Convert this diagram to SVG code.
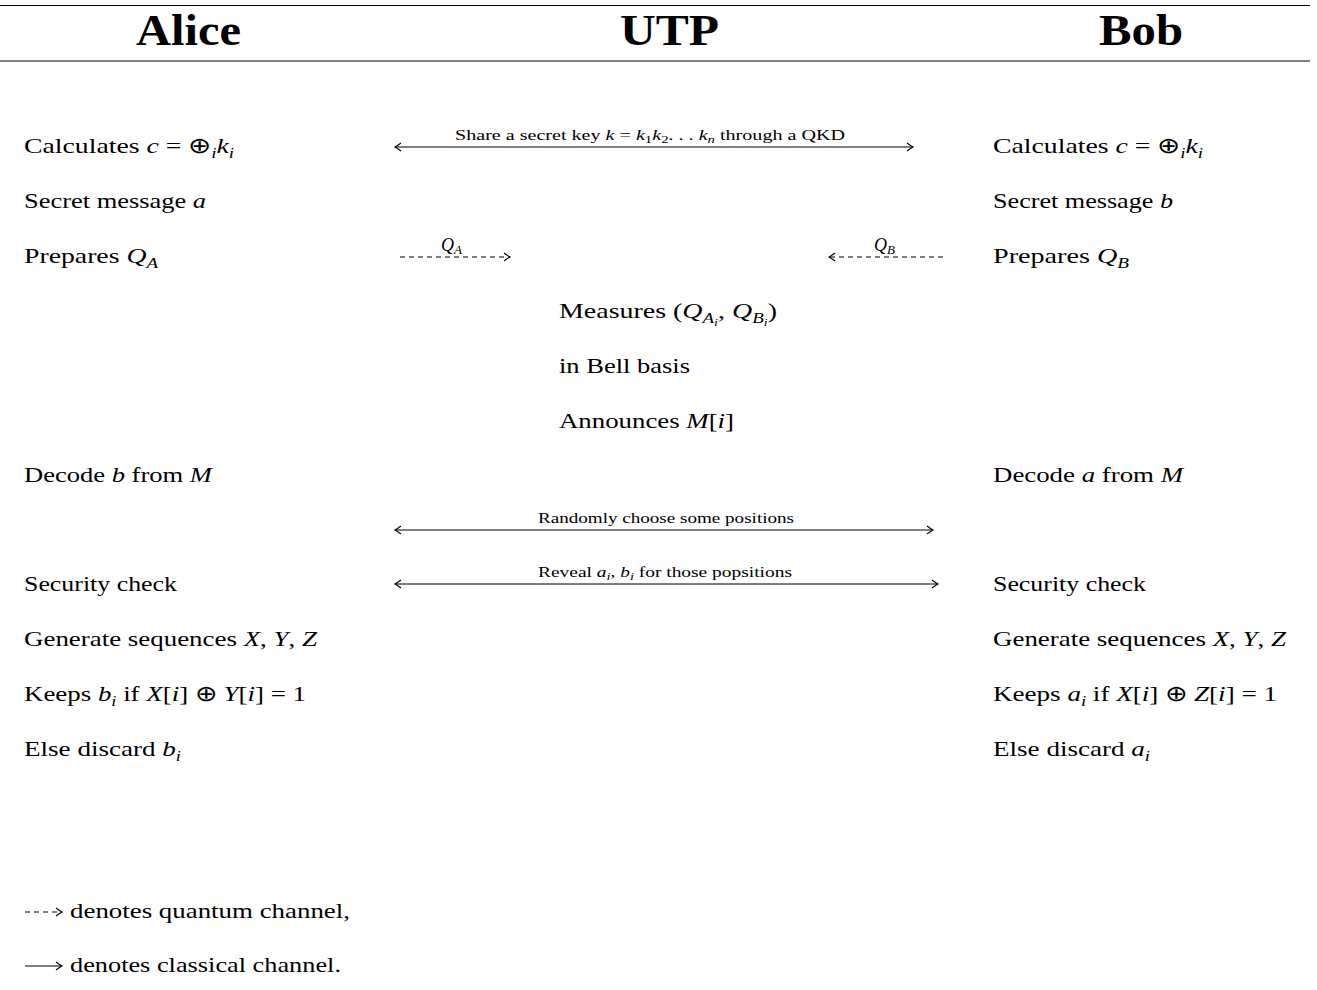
<svg xmlns="http://www.w3.org/2000/svg" width="1317" height="990" viewBox="0 0 1317 990">
<style>
.t{font-family:"Liberation Serif","Times New Roman",serif;font-size:22px;fill:#000}
.h{font-family:"Liberation Serif","Times New Roman",serif;font-size:44px;font-weight:bold;fill:#000}
.l{font-family:"Liberation Serif","Times New Roman",serif;font-size:15px;fill:#000}
.ql{font-family:"Liberation Serif","Times New Roman",serif;font-size:18px;fill:#000}
.i{font-style:italic}
.c{stroke:#000;stroke-width:1.1;fill:none}
.q{stroke:#000;stroke-width:1.1;fill:none;stroke-dasharray:5,4}
</style>
<defs>
<marker id="ah" viewBox="-8 -5 10 10" markerWidth="10" markerHeight="10" refX="0" refY="0" orient="auto-start-reverse" markerUnits="userSpaceOnUse">
<path d="M-6,-4 Q-2,-1 0,0 Q-2,1 -6,4" fill="none" stroke="#000" stroke-width="1.1"/>
</marker>
</defs>
<rect width="1317" height="990" fill="#fff"/>
<g id="header">
<line x1="0" y1="5.5" x2="1310" y2="5.5" stroke="#000" stroke-width="1.2"/>
<line x1="0" y1="61" x2="1310" y2="61" stroke="#808080" stroke-width="2"/>
<text class="h" x="136" y="45" textLength="105" lengthAdjust="spacingAndGlyphs">Alice</text>
<text class="h" x="620" y="45" textLength="99" lengthAdjust="spacingAndGlyphs">UTP</text>
<text class="h" x="1099" y="45" textLength="84" lengthAdjust="spacingAndGlyphs">Bob</text>
</g>
<g id="alice">
<g id="a1"><text class="t" x="24" y="153" textLength="210" lengthAdjust="spacingAndGlyphs">Calculates <tspan class="i">c</tspan> = ⊕<tspan class="i" font-size="15" dy="5">i</tspan><tspan class="i" dy="-5">k</tspan><tspan class="i" font-size="15" dy="5">i</tspan></text></g>
<g id="a2"><text class="t" x="24" y="208" textLength="182" lengthAdjust="spacingAndGlyphs">Secret message <tspan class="i">a</tspan></text></g>
<g id="a3"><text class="t" x="24" y="263" textLength="134" lengthAdjust="spacingAndGlyphs">Prepares <tspan class="i">Q</tspan><tspan class="i" font-size="15" dy="5">A</tspan></text></g>
<g id="a4"><text class="t" x="24" y="482" textLength="188" lengthAdjust="spacingAndGlyphs">Decode <tspan class="i">b</tspan> from <tspan class="i">M</tspan></text></g>
<g id="a5"><text class="t" x="24" y="591" textLength="153" lengthAdjust="spacingAndGlyphs">Security check</text></g>
<g id="a6"><text class="t" x="24" y="646" textLength="293" lengthAdjust="spacingAndGlyphs">Generate sequences <tspan class="i">X</tspan>, <tspan class="i">Y</tspan>, <tspan class="i">Z</tspan></text></g>
<g id="a7"><text class="t" x="24" y="701" textLength="282" lengthAdjust="spacingAndGlyphs">Keeps <tspan class="i">b</tspan><tspan class="i" font-size="15" dy="5">i</tspan><tspan dy="-5"> if </tspan><tspan class="i">X</tspan>[<tspan class="i">i</tspan>] ⊕ <tspan class="i">Y</tspan>[<tspan class="i">i</tspan>] = 1</text></g>
<g id="a8"><text class="t" x="24" y="756" textLength="157" lengthAdjust="spacingAndGlyphs">Else discard <tspan class="i">b</tspan><tspan class="i" font-size="15" dy="5">i</tspan></text></g>
</g>
<g id="utp">
<g id="u1"><text class="t" x="559" y="318" textLength="218" lengthAdjust="spacingAndGlyphs">Measures (<tspan class="i">Q</tspan><tspan class="i" font-size="15" dy="5">A</tspan><tspan class="i" font-size="11" dy="3">i</tspan><tspan dy="-8">, </tspan><tspan class="i">Q</tspan><tspan class="i" font-size="15" dy="5">B</tspan><tspan class="i" font-size="11" dy="3">i</tspan><tspan dy="-8">)</tspan></text></g>
<g id="u2"><text class="t" x="559" y="373" textLength="131" lengthAdjust="spacingAndGlyphs">in Bell basis</text></g>
<g id="u3"><text class="t" x="559" y="428" textLength="175" lengthAdjust="spacingAndGlyphs">Announces <tspan class="i">M</tspan>[<tspan class="i">i</tspan>]</text></g>
</g>
<g id="bob">
<g id="b1"><text class="t" x="993" y="153" textLength="210" lengthAdjust="spacingAndGlyphs">Calculates <tspan class="i">c</tspan> = ⊕<tspan class="i" font-size="15" dy="5">i</tspan><tspan class="i" dy="-5">k</tspan><tspan class="i" font-size="15" dy="5">i</tspan></text></g>
<g id="b2"><text class="t" x="993" y="208" textLength="180" lengthAdjust="spacingAndGlyphs">Secret message <tspan class="i">b</tspan></text></g>
<g id="b3"><text class="t" x="993" y="263" textLength="136" lengthAdjust="spacingAndGlyphs">Prepares <tspan class="i">Q</tspan><tspan class="i" font-size="15" dy="5">B</tspan></text></g>
<g id="b4"><text class="t" x="993" y="482" textLength="190" lengthAdjust="spacingAndGlyphs">Decode <tspan class="i">a</tspan> from <tspan class="i">M</tspan></text></g>
<g id="b5"><text class="t" x="993" y="591" textLength="153" lengthAdjust="spacingAndGlyphs">Security check</text></g>
<g id="b6"><text class="t" x="993" y="646" textLength="293" lengthAdjust="spacingAndGlyphs">Generate sequences <tspan class="i">X</tspan>, <tspan class="i">Y</tspan>, <tspan class="i">Z</tspan></text></g>
<g id="b7"><text class="t" x="993" y="701" textLength="284" lengthAdjust="spacingAndGlyphs">Keeps <tspan class="i">a</tspan><tspan class="i" font-size="15" dy="5">i</tspan><tspan dy="-5"> if </tspan><tspan class="i">X</tspan>[<tspan class="i">i</tspan>] ⊕ <tspan class="i">Z</tspan>[<tspan class="i">i</tspan>] = 1</text></g>
<g id="b8"><text class="t" x="993" y="756" textLength="157" lengthAdjust="spacingAndGlyphs">Else discard <tspan class="i">a</tspan><tspan class="i" font-size="15" dy="5">i</tspan></text></g>
</g>
<g id="connectors">
<g id="e1"><line class="c" x1="395" y1="147" x2="913" y2="147" marker-start="url(#ah)" marker-end="url(#ah)"/>
<text class="l" x="455" y="140" textLength="390" lengthAdjust="spacingAndGlyphs">Share a secret key <tspan class="i">k</tspan> = <tspan class="i">k</tspan><tspan font-size="11" dy="3">1</tspan><tspan class="i" dy="-3">k</tspan><tspan font-size="11" dy="3">2</tspan><tspan dy="-3">. . . </tspan><tspan class="i">k</tspan><tspan class="i" font-size="11" dy="3">n</tspan><tspan dy="-3"> through a QKD</tspan></text></g>
<g id="e2"><line class="q" x1="400" y1="257" x2="510" y2="257" marker-end="url(#ah)"/>
<text class="ql" x="441" y="251"><tspan class="i">Q</tspan><tspan class="i" font-size="13" dy="3">A</tspan></text></g>
<g id="e3"><line class="q" x1="943" y1="257" x2="829" y2="257" marker-end="url(#ah)"/>
<text class="ql" x="874" y="251"><tspan class="i">Q</tspan><tspan class="i" font-size="13" dy="3">B</tspan></text></g>
<g id="e4"><line class="c" x1="395" y1="530" x2="933" y2="530" marker-start="url(#ah)" marker-end="url(#ah)"/>
<text class="l" x="538" y="523" textLength="256" lengthAdjust="spacingAndGlyphs">Randomly choose some positions</text></g>
<g id="e5"><line class="c" x1="395" y1="584" x2="938" y2="584" marker-start="url(#ah)" marker-end="url(#ah)"/>
<text class="l" x="538" y="577" textLength="254" lengthAdjust="spacingAndGlyphs">Reveal <tspan class="i">a</tspan><tspan class="i" font-size="11" dy="3">i</tspan><tspan dy="-3">, </tspan><tspan class="i">b</tspan><tspan class="i" font-size="11" dy="3">i</tspan><tspan dy="-3"> for those popsitions</tspan></text></g>
</g>
<g id="legend">
<line class="q" x1="25" y1="912" x2="62" y2="912" stroke-dasharray="5,4" marker-end="url(#ah)"/>
<text class="t" x="70" y="918" textLength="280" lengthAdjust="spacingAndGlyphs">denotes quantum channel,</text>
<line class="c" x1="25" y1="966" x2="62" y2="966" marker-end="url(#ah)"/>
<text class="t" x="70" y="972" textLength="271" lengthAdjust="spacingAndGlyphs">denotes classical channel.</text>
</g>
</svg>
